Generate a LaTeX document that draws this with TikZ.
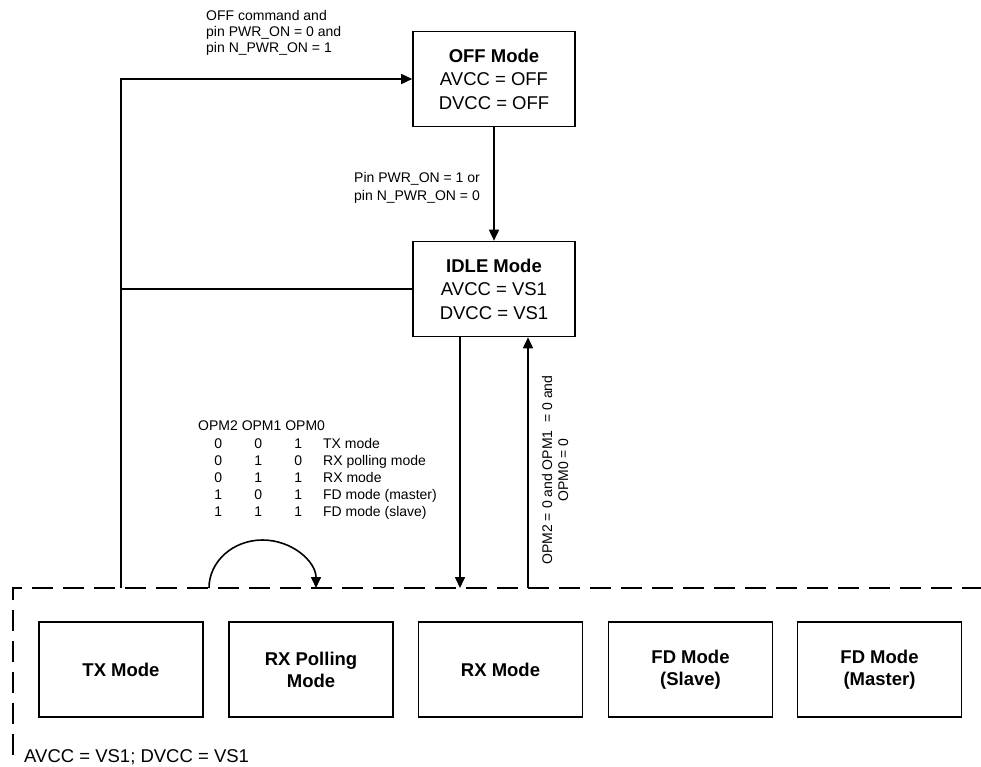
\documentclass[tikz,border=0pt]{standalone}
\usepackage{fontspec}
\setmainfont{Liberation Sans}
\usetikzlibrary{arrows.meta}
\tikzset{
  modebox/.style={draw, line width=1.6pt, minimum width=162pt, minimum height=95pt, align=center, inner sep=0pt, font=\fontsize{18.5}{23.5}\selectfont},
  subbox/.style={modebox, minimum width=164pt, font=\bfseries\fontsize{18.5}{22}\selectfont},
  conn/.style={line width=1.6pt},
  arr/.style={conn, -{Triangle[length=11pt,width=10pt]}},
  frame/.style={line width=1.6pt, dash pattern=on 21pt off 10pt},
  lbl/.style={font=\fontsize{14}{16}\selectfont, inner sep=0pt, align=left},
}
\begin{document}
\begin{tikzpicture}[x=1pt,y=-1pt]
\useasboundingbox (0,0) rectangle (981,766);
\node[modebox] (off) at (494,79) {\textbf{OFF Mode}\\AVCC = OFF\\DVCC = OFF};
\node[modebox] (idle) at (494,289) {\textbf{IDLE Mode}\\AVCC = VS1\\DVCC = VS1};
\node[subbox] (tx) at (121,669.5) {TX Mode};
\node[subbox] (rxp) at (311,669.5) {RX Polling\\Mode};
\node[subbox] (rx) at (500.5,669.5) {RX Mode};
\node[subbox] (fds) at (690.5,669.5) {FD Mode\\(Slave)};
\node[subbox] (fdm) at (879.5,669.5) {FD Mode\\(Master)};

\coordinate (corner) at (13,588);
\coordinate (frameend) at (981,588);
\coordinate (framebot) at (13,755);
\draw[frame] (framebot) -- (corner) -- (frameend);

\coordinate (txtop) at (121,588);
\draw[arr] (txtop) |- (off.west);
\draw[conn] (idle.west) -- (idle.west -| txtop);
\draw[arr] (off.south) -- (idle.north);
\coordinate (rxin) at (460,588);
\coordinate (rxout) at (528,588);
\draw[arr] (idle.south -| rxin) -- (rxin);
\draw[arr] (rxout) -- (rxout |- idle.south);
\coordinate (loopA) at (209,588);
\draw[arr] (loopA) arc[start angle=180, end angle=0, x radius=53.5pt, y radius=48pt];

\node[lbl, anchor=west] (offcond) at (206,33) {OFF command and\\pin PWR\_ON = 0 and\\pin N\_PWR\_ON = 1};
\node[lbl, anchor=west, font=\fontsize{14}{18}\selectfont] (oncond) at (354,187.5) {Pin PWR\_ON = 1 or\\pin N\_PWR\_ON = 0};
\node[lbl, anchor=north west, font=\fontsize{14}{17.2}\selectfont] (opmtable) at (198,421) {OPM2 OPM1 OPM0\\
\makebox[40pt]{0}\makebox[40pt]{0}\makebox[40pt]{1}\hspace{5pt}TX mode\\
\makebox[40pt]{0}\makebox[40pt]{1}\makebox[40pt]{0}\hspace{5pt}RX polling mode\\
\makebox[40pt]{0}\makebox[40pt]{1}\makebox[40pt]{1}\hspace{5pt}RX mode\\
\makebox[40pt]{1}\makebox[40pt]{0}\makebox[40pt]{1}\hspace{5pt}FD mode (master)\\
\makebox[40pt]{1}\makebox[40pt]{1}\makebox[40pt]{1}\hspace{5pt}FD mode (slave)};
\node[lbl, align=center, rotate=90] (opmcond) at (555,470) {OPM2 = 0 and OPM1 \ = 0 and\\OPM0 = 0};
\node[anchor=west, inner sep=0pt, font=\fontsize{18.5}{22}\selectfont] (supply) at (24,757) {AVCC = VS1; DVCC = VS1};
\end{tikzpicture}
\end{document}
